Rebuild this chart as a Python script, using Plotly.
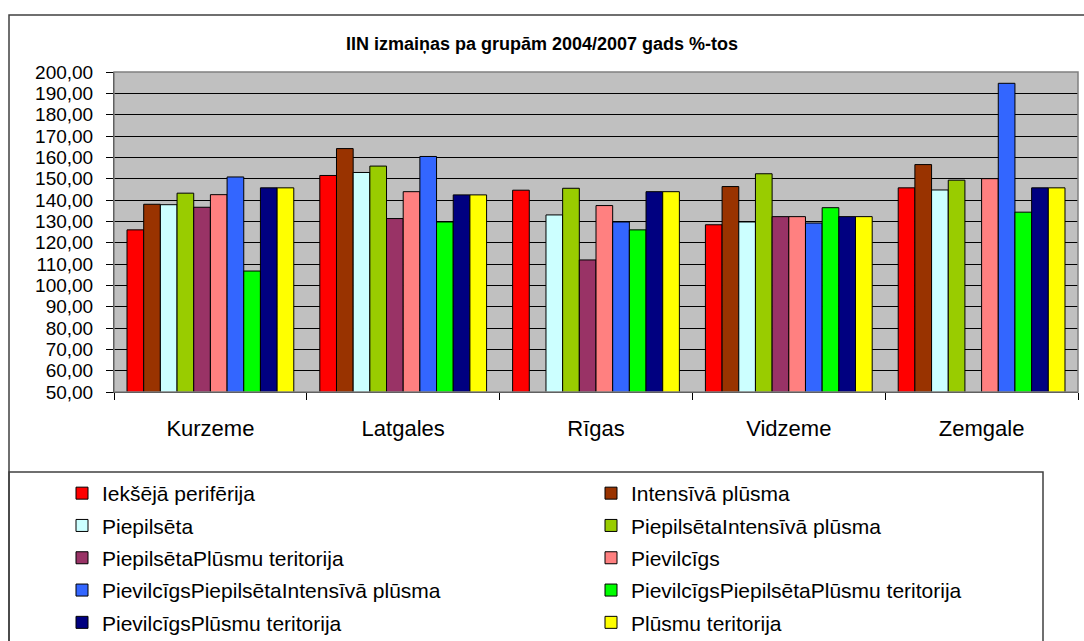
import plotly.graph_objects as go

regions = ["Kurzeme", "Latgales", "Rīgas", "Vidzeme", "Zemgale"]

iek_periferija = [126.0, 151.5, 144.6, 128.4, 145.7]
intensiva_plusma = [138.0, 164.1, None, 146.3, 156.6]
piepilseta = [137.8, 152.9, 133.0, 129.7, 144.7]
piepilseta_intensiva = [143.2, 155.9, 145.5, 152.3, 149.3]
piepilseta_plusmu = [136.6, 131.3, 111.9, 132.2, None]
pievilcigs = [142.5, 143.9, 137.4, 132.2, 150.0]
pievilcigs_piep_intensiva = [150.8, 160.4, 129.7, 129.2, 194.7]
pievilcigs_piep_plusmu = [106.7, 129.7, 126.0, 136.4, 134.3]
pievilcigs_plusmu = [145.7, 142.4, 143.9, 132.2, 145.7]
plusmu_teritorija = [145.7, 142.4, 143.9, 132.2, 145.7]

series = [
    ("Iekšējā perifērija", iek_periferija, "#FF0000"),
    ("Intensīvā plūsma", intensiva_plusma, "#993300"),
    ("Piepilsēta", piepilseta, "#CCFFFF"),
    ("PiepilsētaIntensīvā plūsma", piepilseta_intensiva, "#99CC00"),
    ("PiepilsētaPlūsmu teritorija", piepilseta_plusmu, "#993366"),
    ("Pievilcīgs", pievilcigs, "#FF8080"),
    ("PievilcīgsPiepilsētaIntensīvā plūsma", pievilcigs_piep_intensiva, "#3366FF"),
    ("PievilcīgsPiepilsētaPlūsmu teritorija", pievilcigs_piep_plusmu, "#00FF00"),
    ("PievilcīgsPlūsmu teritorija", pievilcigs_plusmu, "#000080"),
    ("Plūsmu teritorija", plusmu_teritorija, "#FFFF00"),
]

FONT = "Liberation Sans, Arial, sans-serif"
W, H = 1084, 641
ML, MR, MT, MB = 114, 6, 72, 249
PW, PH = W - ML - MR, H - MT - MB


def px_x(x):
    return (x - ML) / PW


def px_y(y):
    return (H - MB - y) / PH


fig = go.Figure()
for i, (name, vals, color) in enumerate(series):
    fig.add_trace(go.Bar(
        x=regions, y=vals, name=name,
        marker=dict(color=color, line=dict(color="black", width=1)),
        legend="legend" if i % 2 == 0 else "legend2",
        legendgroup=name,
    ))

legend_common = dict(
    font=dict(family=FONT, size=21, color="black"),
    bgcolor="rgba(0,0,0,0)", borderwidth=0,
    orientation="v", tracegroupgap=2,
    xanchor="left", yanchor="top", y=px_y(473),
)

fig.update_layout(
    width=W, height=H,
    margin=dict(l=ML, r=MR, t=MT, b=MB, autoexpand=False),
    paper_bgcolor="white", plot_bgcolor="#C0C0C0",
    separators=",.",
    barmode="group", bargap=0.135, bargroupgap=0,
    font=dict(family=FONT, color="black"),
    title=dict(text="<b>IIN izmaiņas pa grupām 2004/2007 gads %-tos</b>",
               font=dict(family=FONT, size=18, color="black"),
               x=0.5, xanchor="center", y=1 - 44 / H, yanchor="middle"),
    legend=dict(x=px_x(62), **legend_common),
    legend2=dict(x=px_x(591), **legend_common),
    xaxis=dict(
        type="category", showline=True, linecolor="black", linewidth=1,
        ticks="outside", tickson="boundaries", ticklen=7, tickcolor="black",
        tickfont=dict(family=FONT, size=22, color="black"),
        ticklabelstandoff=17, showgrid=False, fixedrange=True,
        automargin=False,
    ),
    yaxis=dict(
        range=[50, 200], dtick=10, tickformat=".2f",
        showline=True, linecolor="black", linewidth=1,
        ticks="outside", ticklen=7, tickcolor="black",
        tickfont=dict(family=FONT, size=19, color="black"),
        ticklabelstandoff=9,
        showgrid=True, gridcolor="black", gridwidth=1,
        zeroline=False, fixedrange=True, automargin=False,
    ),
    shapes=[
        # outer chart frame
        dict(type="rect", xref="paper", yref="paper",
             x0=px_x(9), x1=px_x(1100), y0=px_y(700), y1=px_y(15),
             line=dict(color="#404040", width=1.5), layer="below"),
        # plot area border
        dict(type="rect", xref="paper", yref="paper",
             x0=0, x1=1, y0=0, y1=1,
             line=dict(color="#808080", width=1.5)),
        # legend box
        dict(type="rect", xref="paper", yref="paper",
             x0=px_x(9), x1=px_x(1043), y0=px_y(700), y1=px_y(472),
             line=dict(color="#404040", width=1.5)),
    ],
)

fig.write_html("out.html", config={"displayModeBar": False},
               post_script="document.body.style.margin='0';")
